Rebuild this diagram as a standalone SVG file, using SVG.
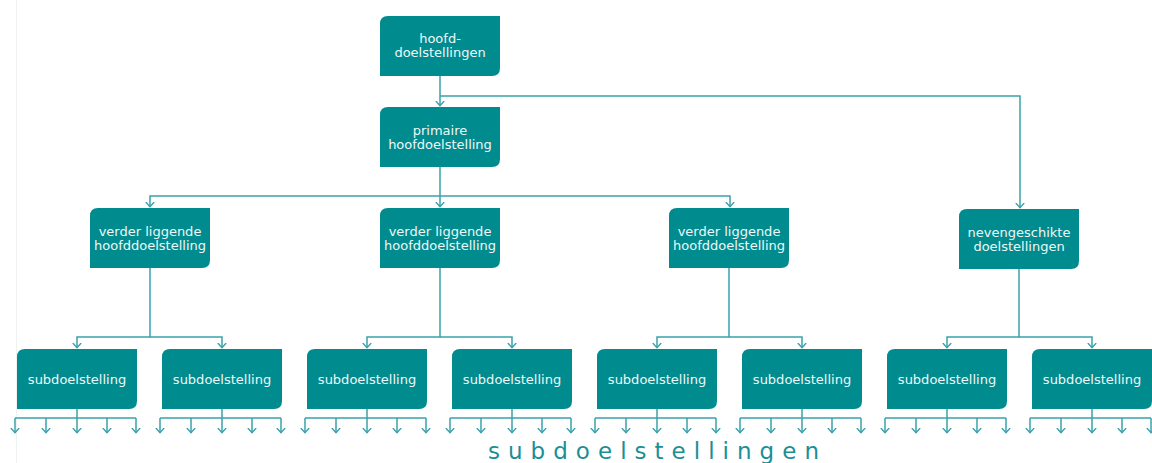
<svg xmlns="http://www.w3.org/2000/svg" width="1152" height="463" viewBox="0 0 1152 463">
<defs>
<style>
.box{fill:#008b8f}
.t{font-family:"DejaVu Sans",sans-serif;font-size:13px;fill:#eef8f8;text-anchor:middle}
.c{fill:none;stroke:#3aa2aa;stroke-width:1.5}
.big{font-family:"DejaVu Sans",sans-serif;font-size:23px;fill:#1b8f96}
</style>
<marker id="a" viewBox="0 0 6 10" refX="5.5" refY="5" markerWidth="6" markerHeight="10" markerUnits="userSpaceOnUse" orient="auto-start-reverse">
<path d="M0.5,0.8 L5.3,5 L0.5,9.2" fill="none" stroke="#3aa2aa" stroke-width="1.4"/>
</marker>
<path id="shape" d="M8,0 H120 V52 Q120,60 112,60 H0 V8 Q0,0 8,0 Z"/>
</defs>
<rect width="1152" height="463" fill="#fff"/>
<line x1="16.5" y1="0" x2="16.5" y2="463" stroke="#eef2f2" stroke-width="1"/>

<g id="connectors">
<path class="c" d="M440,75 V106" marker-end="url(#a)"/>
<path class="c" d="M440,96 H1020 V208" marker-end="url(#a)"/>
<path class="c" d="M440,166 V196 H150 V207" marker-end="url(#a)"/>
<path class="c" d="M440,196 V207" marker-end="url(#a)"/>
<path class="c" d="M440,196 H730 V207" marker-end="url(#a)"/>

<path class="c" d="M150,267 V337 H77 V348" marker-end="url(#a)"/>
<path class="c" d="M150,337 H222 V348" marker-end="url(#a)"/>
<path class="c" d="M440,267 V337 H367 V348" marker-end="url(#a)"/>
<path class="c" d="M440,337 H512 V348" marker-end="url(#a)"/>
<path class="c" d="M729,267 V337 H657 V348" marker-end="url(#a)"/>
<path class="c" d="M729,337 H802 V348" marker-end="url(#a)"/>
<path class="c" d="M1019,268 V337 H947 V348" marker-end="url(#a)"/>
<path class="c" d="M1019,337 H1092 V348" marker-end="url(#a)"/>

<g id="leaf">
<path class="c" d="M77,408 V433" marker-end="url(#a)"/>
<path class="c" d="M15,418 H136"/>
<path class="c" d="M15,418 V433" marker-end="url(#a)"/>
<path class="c" d="M136,418 V433" marker-end="url(#a)"/>
<path class="c" d="M46,418 V433" marker-end="url(#a)"/>
<path class="c" d="M107,418 V433" marker-end="url(#a)"/>
</g>
<use href="#leaf" x="145"/>
<use href="#leaf" x="290"/>
<use href="#leaf" x="435"/>
<use href="#leaf" x="580"/>
<use href="#leaf" x="725"/>
<use href="#leaf" x="870"/>
<use href="#leaf" x="1015"/>
</g>

<g id="n-hoofd"><use href="#shape" class="box" x="380" y="16"/><text class="t" x="440" y="43">hoofd-</text><text class="t" x="440" y="57">doelstellingen</text></g>
<g id="n-primaire"><use href="#shape" class="box" x="380" y="107"/><text class="t" x="440" y="135">primaire</text><text class="t" x="440" y="149">hoofdoelstelling</text></g>
<g id="n-verder1"><use href="#shape" class="box" x="90" y="208"/><text class="t" x="150" y="236">verder liggende</text><text class="t" x="150" y="250">hoofddoelstelling</text></g>
<g id="n-verder2"><use href="#shape" class="box" x="380" y="208"/><text class="t" x="440" y="236">verder liggende</text><text class="t" x="440" y="250">hoofddoelstelling</text></g>
<g id="n-verder3"><use href="#shape" class="box" x="669" y="208"/><text class="t" x="729" y="236">verder liggende</text><text class="t" x="729" y="250">hoofddoelstelling</text></g>
<g id="n-neven"><use href="#shape" class="box" x="959" y="209"/><text class="t" x="1019" y="237">nevengeschikte</text><text class="t" x="1019" y="251">doelstellingen</text></g>

<g id="n-sub1"><use href="#shape" class="box" x="17" y="349"/><text class="t" x="77" y="384">subdoelstelling</text></g>
<g id="n-sub2"><use href="#shape" class="box" x="162" y="349"/><text class="t" x="222" y="384">subdoelstelling</text></g>
<g id="n-sub3"><use href="#shape" class="box" x="307" y="349"/><text class="t" x="367" y="384">subdoelstelling</text></g>
<g id="n-sub4"><use href="#shape" class="box" x="452" y="349"/><text class="t" x="512" y="384">subdoelstelling</text></g>
<g id="n-sub5"><use href="#shape" class="box" x="597" y="349"/><text class="t" x="657" y="384">subdoelstelling</text></g>
<g id="n-sub6"><use href="#shape" class="box" x="742" y="349"/><text class="t" x="802" y="384">subdoelstelling</text></g>
<g id="n-sub7"><use href="#shape" class="box" x="887" y="349"/><text class="t" x="947" y="384">subdoelstelling</text></g>
<g id="n-sub8"><use href="#shape" class="box" x="1032" y="349"/><text class="t" x="1092" y="384">subdoelstelling</text></g>

<text class="big" x="488" y="459" textLength="331" lengthAdjust="spacing">subdoelstellingen</text>
</svg>
